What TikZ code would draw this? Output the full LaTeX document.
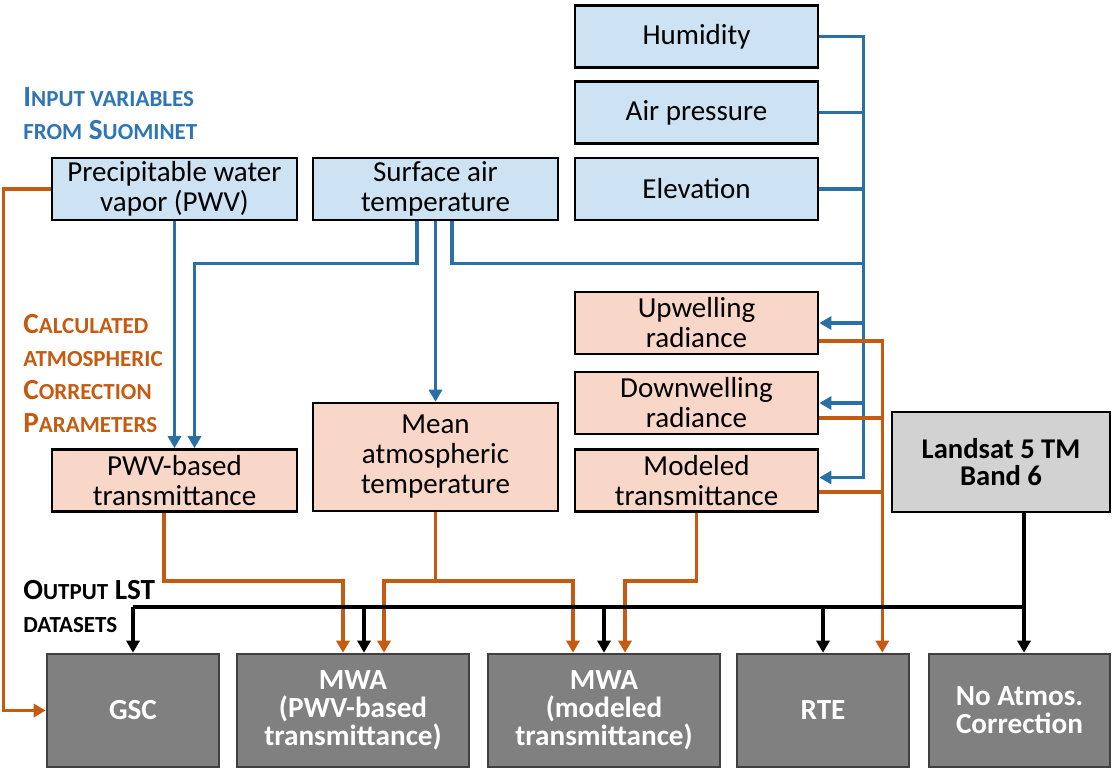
\documentclass[tikz,border=0pt]{standalone}
\usepackage{fontspec}
\setmainfont{Carlito}
\usetikzlibrary{arrows.meta,calc}
\definecolor{lineblue}{RGB}{40,112,165}
\definecolor{headblue}{RGB}{46,117,182}
\definecolor{lineorange}{RGB}{197,90,17}
\definecolor{fillblue}{RGB}{205,226,243}
\definecolor{fillorange}{RGB}{248,214,200}
\definecolor{filllight}{RGB}{210,210,210}
\definecolor{filldark}{RGB}{128,128,128}
\newcommand{\sm}[1]{{\fontsize{11.5}{12}\selectfont #1}}

\begin{document}
\begin{tikzpicture}[x=0.5pt,y=-0.5pt,
  box/.style={draw=black,line width=1.3pt,minimum width=122.5pt,minimum height=31pt,
    align=center,inner sep=1pt,font=\fontsize{14.5}{15}\selectfont},
  inbox/.style={box,fill=fillblue},
  parbox/.style={box,fill=fillorange},
  srcbox/.style={box,fill=filllight,font=\fontsize{14.3}{13.5}\selectfont\bfseries},
  outbox/.style={box,draw=black!75,fill=filldark,text=white,minimum height=56.5pt,
    font=\fontsize{14.6}{14}\selectfont\bfseries},
  heading/.style={anchor=west,align=left,inner sep=0pt,font=\fontsize{14.6}{16.5}\selectfont\bfseries},
  bline/.style={draw=lineblue,line width=1.7pt},
  oline/.style={draw=lineorange,line width=1.7pt},
  kline/.style={draw=black,line width=1.7pt},
  >={Triangle[width=6.5pt,length=6pt]}]
\useasboundingbox (0,0) rectangle (1113,772);

% inputs
\node[inbox] (pwv) at (174.5,189) {Precipitable water\\vapor (PWV)};
\node[inbox] (sat) at (435.5,189) {Surface air\\temperature};
\node[inbox,minimum width=121.5pt] (hum) at (696.5,36.5) {Humidity};
\node[inbox,minimum width=121.5pt] (air) at (696.5,112.5) {Air pressure};
\node[inbox,minimum width=121.5pt] (elev) at (696.5,189) {Elevation};

% parameters
\node[parbox] (pwvt) at (174.5,480.5) {PWV-based\\transmittance};
\node[parbox,minimum height=54pt] (mat) at (435.5,457) {Mean\\atmospheric\\temperature};
\node[parbox,minimum width=121.5pt] (up) at (696.5,323) {Upwelling\\radiance};
\node[parbox,minimum width=121.5pt] (down) at (696.5,403) {Downwelling\\radiance};
\node[parbox,minimum width=121.5pt] (modt) at (696.5,480.5) {Modeled\\transmittance};
\node[srcbox,minimum width=109pt,minimum height=50pt] (land) at (1001,462) {Landsat 5 TM\\Band 6};

% outputs
\node[outbox,minimum width=86pt] (gsc) at (133,710.5) {GSC};
\node[outbox,minimum width=116pt] (mwap) at (353,710.5) {MWA\\(PWV-based\\transmittance)};
\node[outbox,minimum width=116pt] (mwam) at (604,710.5) {MWA\\(modeled\\transmittance)};
\node[outbox,minimum width=86pt] (rte) at (823,710.5) {RTE};
\node[outbox,minimum width=90.5pt] (nac) at (1019.5,710.5) {No Atmos.\\Correction};

% headings
\node[heading,text=headblue] (inlab) at (23,113.5) {I\sm{NPUT VARIABLES}\\\sm{FROM} S\sm{UOMINET}};
\node[heading,text=lineorange] (parlab) at (23,373) {C\sm{ALCULATED}\\\sm{ATMOSPHERIC}\\C\sm{ORRECTION}\\P\sm{ARAMETERS}};
\node[heading] (outlab) at (23,606) {O\sm{UTPUT} LST\\\sm{DATASETS}};

% blue connectors
\draw[bline,->] (pwv.south) -- (pwv.south |- pwvt.north);
\draw[bline,->] ($(sat.south)+(-18.5,0)$) -- ++(0,42) -| ($(pwvt.north)+(20,0)$);
\draw[bline,->] (sat.south) -- (mat.north);
\draw[bline,->] (hum.east) -- ++(44,0) coordinate (bt) |- ($(modt.east)+(0,-3)$);
\draw[bline] (air.east) -- (air.east -| bt);
\draw[bline] (elev.east) -- (elev.east -| bt);
\draw[bline] ($(sat.south)+(16.5,0)$) -- ++(0,42) coordinate (sr) -- (sr -| bt);
\draw[bline,->] (bt |- up.east) -- (up.east);
\draw[bline,->] (bt |- down.east) -- (down.east);

% orange connectors
\coordinate (obus) at (0,581);
\coordinate (a1) at ($(mwap.north)+(-10,0)$);
\coordinate (a2) at ($(mwap.north)+(31,0)$);
\coordinate (a3) at ($(mwam.north)+(-31,0)$);
\coordinate (a4) at ($(mwam.north)+(21,0)$);
\draw[oline,->] ($(pwvt.south)+(-10.5,0)$) coordinate (p1) -- (p1 |- obus) -| (a1);
\draw[oline,->] (mat.south) -- (mat.south |- obus) -| (a2);
\draw[oline,->] (mat.south |- obus) -| (a3);
\draw[oline,->] (modt.south) -- (modt.south |- obus) -| (a4);
\draw[oline,->] ($(up.east)+(0,18)$) -- ++(63,0) coordinate (ot) -- (ot |- rte.north);
\draw[oline] ($(down.east)+(0,15)$) coordinate (d1) -- (d1 -| ot);
\draw[oline] ($(modt.east)+(0,11.5)$) coordinate (m1) -- (m1 -| ot);
\draw[oline,->] (pwv.west) -- ++(-47,0) |- (gsc.west);

% black connectors
\coordinate (kbus) at (0,607);
\coordinate (k2) at ($(mwap.north)+(11,0)$);
\draw[kline,->] ($(land.south)+(23,0)$) coordinate (lt) -- (lt |- nac.north);
\draw[kline] (lt |- kbus) -- (gsc.north |- kbus);
\draw[kline,->] (gsc.north |- kbus) -- (gsc.north);
\draw[kline,->] (k2 |- kbus) -- (k2);
\draw[kline,->] (mwam.north |- kbus) -- (mwam.north);
\draw[kline,->] (rte.north |- kbus) -- (rte.north);
\end{tikzpicture}
\end{document}
